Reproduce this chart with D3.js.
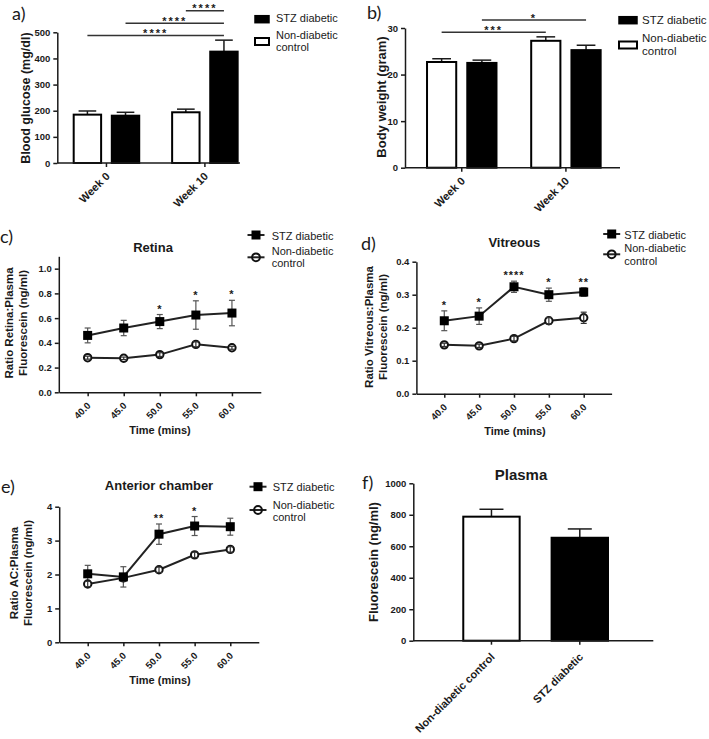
<!DOCTYPE html>
<html><head><meta charset="utf-8">
<script src="https://cdn.jsdelivr.net/npm/d3@7"></script>
<style>body{margin:0;background:#fff} svg{display:block}</style>
</head><body><svg id="c" width="709" height="739"></svg>
<script>
// ---------------- data ----------------
const weekGroups = ["Week 0", "Week 10"];
const seriesKeys = ["control", "stz"];
const legendLabels = ["STZ diabetic", "Non-diabetic", "control"];

const glucoseControl = [185, 194];
const glucoseControlErr = [14, 12];
const glucoseSTZ = [181, 426];
const glucoseSTZErr = [13, 44];
const glucoseTicks = [0, 100, 200, 300, 400, 500];
const glucoseSig = [
  {from: [0, "control"], to: [1, "stz"], level: 488, label: "****"},
  {from: [0, "stz"], to: [1, "stz"], level: 535, label: "****"},
  {from: [1, "control"], to: [1, "stz"], level: 582, label: "****"}
];

const weightControl = [22.7, 27.25];
const weightControlErr = [0.7, 0.85];
const weightSTZ = [22.5, 25.25];
const weightSTZErr = [0.6, 1.05];
const weightTicks = [0, 10, 20, 30];
const weightSig = [
  {from: [0, "control"], to: [1, "control"], level: 29.1, label: "***"},
  {from: [0, "stz"], to: [1, "stz"], level: 31.7, label: "*"}
];

const timePoints = [40, 45, 50, 55, 60];
const timeLabels = ["40.0", "45.0", "50.0", "55.0", "60.0"];

const retinaSTZ = [0.46, 0.52, 0.572, 0.625, 0.641];
const retinaSTZErr = [0.06, 0.062, 0.057, 0.115, 0.103];
const retinaControl = [0.28, 0.275, 0.305, 0.388, 0.36];
const retinaControlErr = [0.012, 0.01, 0.015, 0.02, 0.012];
const retinaStars = ["", "", "*", "*", "*"];
const retinaTicks = [0, 0.2, 0.4, 0.6, 0.8, 1.0];

const vitreousSTZ = [0.221, 0.235, 0.324, 0.3, 0.308];
const vitreousSTZErr = [0.03, 0.025, 0.017, 0.02, 0.013];
const vitreousControl = [0.148, 0.145, 0.167, 0.221, 0.23];
const vitreousControlErr = [0.005, 0.005, 0.007, 0.01, 0.017];
const vitreousStars = ["*", "*", "****", "*", "**"];
const vitreousTicks = [0, 0.1, 0.2, 0.3, 0.4];

const acSTZ = [2.02, 1.93, 3.19, 3.43, 3.41];
const acSTZErr = [0.25, 0.3, 0.3, 0.28, 0.25];
const acControl = [1.72, 1.9, 2.14, 2.58, 2.74];
const acControlErr = [0.08, 0.1, 0.08, 0.08, 0.08];
const acStars = ["", "", "**", "*", ""];
const acTicks = [0, 1, 2, 3, 4];

const plasmaGroups = ["Non-diabetic control", "STZ diabetic"];
const plasmaValues = [788, 654];
const plasmaErr = [47, 56];
const plasmaTicks = [0, 200, 400, 600, 800, 1000];

// ---------------- drawing ----------------
const svg = d3.select("#c");
const INK = "#1a1a1a";
const SANS = "'Liberation Sans', Arial, sans-serif";

function styleAxis(g) {
  g.selectAll("path,line").attr("stroke", INK).attr("stroke-width", 1.5);
  g.selectAll("text").attr("fill", INK).attr("font-size", 9.5)
    .attr("font-weight", "bold").attr("font-family", SANS);
}

function text(x, y, str, opts) {
  opts = opts || {};
  const t = svg.append("text").attr("x", x).attr("y", y).text(str)
    .attr("fill", INK).attr("font-family", opts.family || SANS)
    .attr("font-size", opts.size || 11)
    .attr("font-weight", opts.weight || "normal")
    .attr("text-anchor", opts.anchor || "start");
  if (opts.spacing) t.attr("letter-spacing", opts.spacing);
  return t;
}

function panelLetter(x, y, s) {
  text(x, y, s, {family: "Lato, 'Open Sans', sans-serif", size: 18});
}

function yTitle(cx, cy, lines, size) {
  const t = svg.append("text").attr("transform", `translate(${cx},${cy}) rotate(-90)`)
    .attr("text-anchor", "middle").attr("fill", INK).attr("font-family", SANS)
    .attr("font-weight", "bold").attr("font-size", size);
  const n = lines.length;
  lines.forEach((l, i) => {
    t.append("tspan").attr("x", 0).attr("dy", i === 0 ? ((0.35 - (n - 1) * 0.6) + "em") : "1.2em").text(l);
  });
}

function yAxis(x, y, ticks, fmt) {
  const g = svg.append("g").attr("transform", `translate(${x},0)`)
    .call(d3.axisLeft(y).tickValues(ticks).tickFormat(fmt).tickSize(4).tickSizeOuter(0).tickPadding(3));
  styleAxis(g);
}

function barPanel(cfg) {
  const y = d3.scaleLinear().domain(cfg.yDomain).range(cfg.yRange);
  const xb = d3.scaleBand().domain(cfg.groups).range(cfg.xRange)
    .paddingInner(cfg.pi).paddingOuter(cfg.po).align(cfg.align);
  const sub = cfg.keys ? d3.scaleBand().domain(cfg.keys).range([0, xb.bandwidth()]).paddingInner(cfg.subPi) : null;
  const bw = sub ? sub.bandwidth() : xb.bandwidth();
  const capW = Math.min(24, bw * 0.6);
  const base = y(0);
  const bars = [];
  cfg.groups.forEach((gname, gi) => {
    cfg.series.forEach(s => {
      const x = xb(gname) + (sub ? sub(s.key) : 0);
      bars.push({x, v: s.values[gi], e: s.errs[gi], fill: Array.isArray(s.fill) ? s.fill[gi] : s.fill, key: s.key, gi});
    });
  });
  // error bars (upper only)
  bars.forEach(b => {
    const cx = b.x + bw / 2;
    svg.append("line").attr("x1", cx).attr("x2", cx).attr("y1", y(b.v)).attr("y2", y(b.v + b.e))
      .attr("stroke", INK).attr("stroke-width", 1.5);
    svg.append("line").attr("x1", cx - capW / 2).attr("x2", cx + capW / 2).attr("y1", y(b.v + b.e)).attr("y2", y(b.v + b.e))
      .attr("stroke", INK).attr("stroke-width", 1.5);
  });
  svg.append("g").selectAll("rect").data(bars).join("rect")
    .attr("x", d => d.x + 1).attr("width", bw - 2)
    .attr("y", d => y(d.v)).attr("height", d => base - y(d.v))
    .attr("fill", d => d.fill).attr("stroke", "#000").attr("stroke-width", 2);
  // axes
  yAxis(cfg.xRange[0], y, cfg.ticks, d3.format("d"));
  const gx = svg.append("g").attr("transform", `translate(0,${base})`)
    .call(d3.axisBottom(xb).tickSize(4).tickSizeOuter(0));
  gx.select(".domain").attr("d", `M${cfg.xRange[0]},0H${cfg.xRange[1]}`);
  styleAxis(gx);
  gx.selectAll("text").attr("font-size", 11).attr("text-anchor", "end").attr("y", 0).attr("dy", 0)
    .attr("transform", `translate(${cfg.lab[0]},${cfg.lab[1]}) rotate(-45)`);
  // significance brackets
  (cfg.sig || []).forEach(s => {
    const c = p => xb(cfg.groups[p[0]]) + sub(p[1]) + bw / 2;
    const x1 = c(s.from), x2 = c(s.to), yy = y(s.level);
    svg.append("line").attr("x1", x1).attr("x2", x2).attr("y1", yy).attr("y2", yy)
      .attr("stroke", "#333").attr("stroke-width", 1.5);
    text((x1 + x2) / 2, yy + 1.5, s.label, {size: 11, weight: "bold", anchor: "middle", spacing: 2});
  });
}

function barLegend(x, w, ys, h, textX, baselines, size) {
  svg.append("rect").attr("x", x).attr("y", ys[0]).attr("width", w).attr("height", h)
    .attr("fill", "#000").attr("stroke", "#000").attr("stroke-width", 1.5);
  svg.append("rect").attr("x", x).attr("y", ys[1]).attr("width", w).attr("height", h)
    .attr("fill", "#fff").attr("stroke", "#000").attr("stroke-width", 2);
  legendLabels.forEach((l, i) => text(textX, baselines[i], l, {size}));
}

function linePanel(cfg) {
  const x = d3.scaleLinear().domain([36, 64]).range(cfg.xRange);
  const y = d3.scaleLinear().domain(cfg.yDomain).range(cfg.yRange);
  const line = d3.line().x((d, i) => x(timePoints[i])).y(d => y(d));
  const drawErr = (vals, errs, color) => {
    vals.forEach((v, i) => {
      const cx = x(timePoints[i]);
      const lo = y(v - errs[i]), hi = y(v + errs[i]);
      svg.append("line").attr("x1", cx).attr("x2", cx).attr("y1", lo).attr("y2", hi).attr("stroke", color).attr("stroke-width", 1.2);
      [lo, hi].forEach(yy => svg.append("line").attr("x1", cx - 3).attr("x2", cx + 3).attr("y1", yy).attr("y2", yy).attr("stroke", color).attr("stroke-width", 1.2));
    });
  };
  drawErr(cfg.stz, cfg.stzErr, "#555");
  svg.append("path").attr("d", line(cfg.control)).attr("fill", "none").attr("stroke", "#222").attr("stroke-width", 2);
  svg.append("path").attr("d", line(cfg.stz)).attr("fill", "none").attr("stroke", "#222").attr("stroke-width", 2);
  svg.append("g").selectAll("circle").data(cfg.control).join("circle")
    .attr("cx", (d, i) => x(timePoints[i])).attr("cy", d => y(d)).attr("r", 3.7)
    .attr("fill", "#fff").attr("stroke", "#111").attr("stroke-width", 2);
  drawErr(cfg.control, cfg.controlErr, "#333");
  svg.append("g").selectAll("rect").data(cfg.stz).join("rect")
    .attr("x", (d, i) => x(timePoints[i]) - 4.5).attr("y", d => y(d) - 4.5)
    .attr("width", 9).attr("height", 9).attr("fill", "#000");
  cfg.stars.forEach((s, i) => {
    if (!s) return;
    text(x(timePoints[i]), y(cfg.stz[i] + cfg.stzErr[i]) - 2, s, {size: 11, weight: "bold", anchor: "middle", spacing: 1});
  });
  yAxis(cfg.xRange[0], y, cfg.ticks, d3.format(cfg.fmt));
  const gx = svg.append("g").attr("transform", `translate(0,${cfg.yRange[0]})`)
    .call(d3.axisBottom(x).tickValues(timePoints).tickFormat((d, i) => timeLabels[i]).tickSize(4).tickSizeOuter(0));
  styleAxis(gx);
  gx.selectAll("text").attr("text-anchor", "end").attr("y", 0).attr("dy", 0)
    .attr("transform", "translate(3,14) rotate(-45)");
  text(cfg.titleX, cfg.titleY, cfg.title, {size: 13, weight: "bold", anchor: "middle"});
  text(cfg.xTitleX, cfg.xTitleY, "Time (mins)", {size: 11, weight: "bold", anchor: "middle"});
}

function lineLegend(cx, y1, y2, textX, baselines) {
  [y1, y2].forEach(yy => svg.append("line").attr("x1", cx - 8.5).attr("x2", cx + 8.5).attr("y1", yy).attr("y2", yy)
    .attr("stroke", "#222").attr("stroke-width", 2));
  svg.append("rect").attr("x", cx - 4.5).attr("y", y1 - 4.5).attr("width", 9).attr("height", 9).attr("fill", "#000");
  svg.append("circle").attr("cx", cx).attr("cy", y2).attr("r", 3.9).attr("fill", "none")
    .attr("stroke", "#111").attr("stroke-width", 2);
  legendLabels.forEach((l, i) => text(textX, baselines[i], l, {size: 11}));
}

// ---- panel a ----
barPanel({
  groups: weekGroups, keys: seriesKeys,
  series: [{key: "control", values: glucoseControl, errs: glucoseControlErr, fill: "#fff"},
           {key: "stz", values: glucoseSTZ, errs: glucoseSTZErr, fill: "#000"}],
  yDomain: [0, 500], yRange: [163, 32.3], ticks: glucoseTicks,
  xRange: [57.3, 240], pi: 0.314, po: 0.085, align: 0.92, subPi: 0.228,
  lab: [4, 14], sig: glucoseSig
});
yTitle(26, 98, ["Blood glucose (mg/dl)"], 12.5);
barLegend(255, 14, [15.7, 38], 7, 276, [21.7, 38.5, 50.5], 11);
panelLetter(12, 20, "a)");

// ---- panel b ----
barPanel({
  groups: weekGroups, keys: seriesKeys,
  series: [{key: "control", values: weightControl, errs: weightControlErr, fill: "#fff"},
           {key: "stz", values: weightSTZ, errs: weightSTZErr, fill: "#000"}],
  yDomain: [0, 30], yRange: [167.7, 28], ticks: weightTicks,
  xRange: [405, 620], pi: 0.314, po: 0.189, align: 0.534, subPi: 0.225,
  lab: [4, 14], sig: weightSig
});
yTitle(381, 97, ["Body weight (gram)"], 13);
barLegend(619, 18, [16.7, 41.5], 7, 642, [24, 41.5, 54.5], 11.5);
panelLetter(367, 19, "b)");

// ---- panel c ----
linePanel({
  stz: retinaSTZ, stzErr: retinaSTZErr, control: retinaControl, controlErr: retinaControlErr,
  stars: retinaStars, ticks: retinaTicks, fmt: ".1f",
  xRange: [58.8, 260.8], yDomain: [0, 1.1], yRange: [392.3, 256.3],
  title: "Retina", titleX: 153, titleY: 252, xTitleX: 160, xTitleY: 434
});
yTitle(16, 323, ["Ratio Retina:Plasma", "Fluorescein (ng/ml)"], 11.5);
lineLegend(256, 235, 257.3, 271.7, [240, 255, 267]);
panelLetter(0, 243, "c)");

// ---- panel d ----
linePanel({
  stz: vitreousSTZ, stzErr: vitreousSTZErr, control: vitreousControl, controlErr: vitreousControlErr,
  stars: vitreousStars, ticks: vitreousTicks, fmt: ".1f",
  xRange: [416.4, 611.6], yDomain: [0, 0.4], yRange: [393.7, 261.7],
  title: "Vitreous", titleX: 514.3, titleY: 247, xTitleX: 515, xTitleY: 434.5
});
yTitle(376, 327, ["Ratio Vitreous:Plasma", "Fluorescein (ng/ml)"], 11.5);
lineLegend(611.7, 234, 254.3, 624.3, [238.5, 251.7, 265]);
panelLetter(361, 250, "d)");

// ---- panel e ----
linePanel({
  stz: acSTZ, stzErr: acSTZErr, control: acControl, controlErr: acControlErr,
  stars: acStars, ticks: acTicks, fmt: "d",
  xRange: [59.2, 258.8], yDomain: [0, 4], yRange: [642.3, 506.7],
  title: "Anterior chamber", titleX: 159, titleY: 490, xTitleX: 160, xTitleY: 684
});
yTitle(21, 573, ["Ratio AC:Plasma", "Fluorescein (ng/ml)"], 11.5);
lineLegend(258, 486.7, 510, 272.7, [490.5, 509, 520.5]);
panelLetter(1, 493, "e)");

// ---- panel f ----
barPanel({
  groups: plasmaGroups, keys: null,
  series: [{key: "v", values: plasmaValues, errs: plasmaErr, fill: ["#fff", "#000"]}],
  yDomain: [0, 1000], yRange: [640.7, 483.3], ticks: plasmaTicks,
  xRange: [413.3, 653.3], pi: 0.339, po: 0.528, align: 0.525,
  lab: [4, 17]
});
yTitle(373, 562, ["Fluorescein (ng/ml)"], 13);
text(521, 480, "Plasma", {size: 15, weight: "bold", anchor: "middle"});
panelLetter(362, 489, "f)");
</script>
</body></html>
